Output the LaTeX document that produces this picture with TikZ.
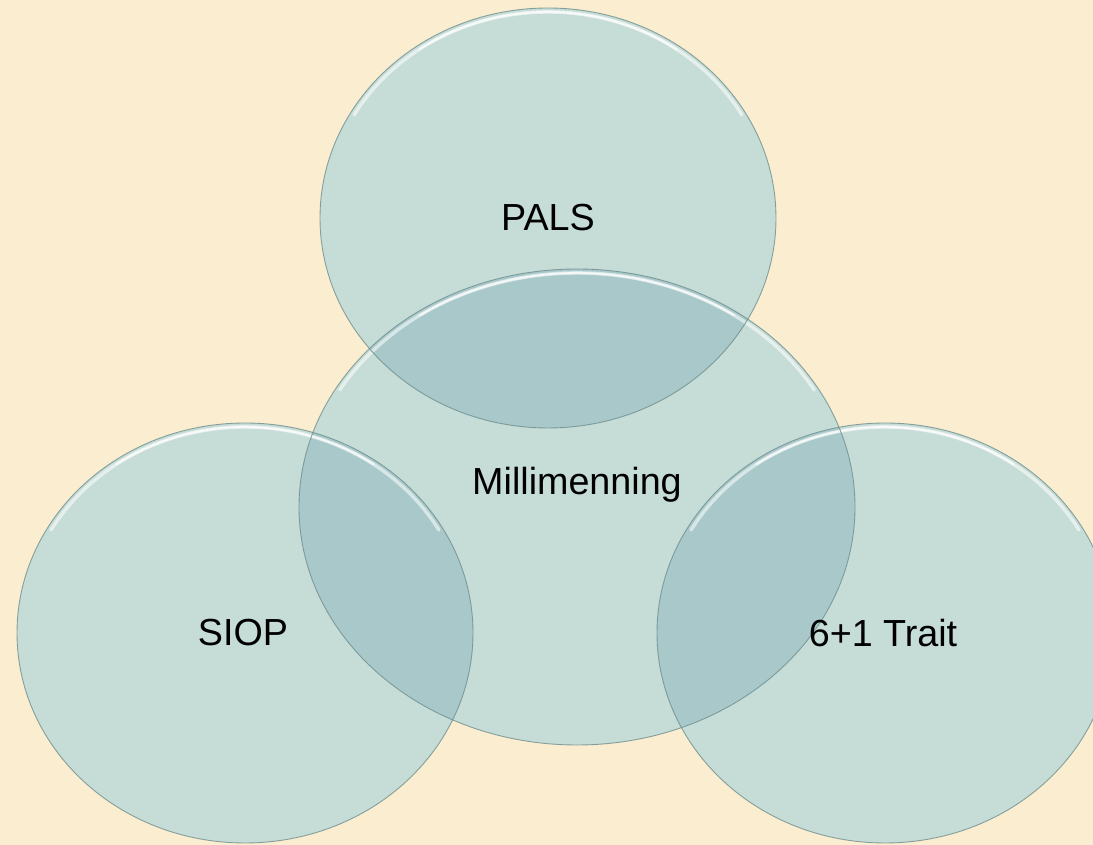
\documentclass[tikz,border=0pt]{standalone}
\usepackage{fontspec}
\setmainfont{Liberation Sans}
\definecolor{bgbeige}{HTML}{FBEDD0}
\definecolor{vennfill}{HTML}{C6DCD6}
\definecolor{vennovl}{HTML}{A8C8CA}
\definecolor{vennrim}{HTML}{6F8E8E}
\tikzset{
  vennshape/.style={fill=vennfill},
  ovlshape/.style={fill=vennovl},
  rimline/.style={draw=vennrim, line width=0.9pt, draw opacity=0.8},
  hiline/.style={draw=white, line width=3.5pt, draw opacity=0.55, line cap=round},
  hiline2/.style={draw=white, line width=2pt, draw opacity=0.7, line cap=round},
  lbl/.style={font=\fontsize{37.7}{44}\selectfont, text=black, inner sep=0pt}
}
\begin{document}
\begin{tikzpicture}[x=1pt,y=1pt]
\useasboundingbox (0,0) rectangle (1093,845);
\fill[bgbeige] (0,0) rectangle (1093,845);
% centres
\coordinate (cPals) at (548,627);
\coordinate (cMill) at (577,338);
\coordinate (cSiop) at (245,212);
\coordinate (cTrait) at (885,212);
% base fills
\begin{scope}
\clip (0,0) rectangle (1093,845);
\fill[vennshape] (cMill) ellipse[x radius=278pt, y radius=238pt];
\fill[vennshape] (cPals) ellipse[x radius=228pt, y radius=210pt];
\fill[vennshape] (cSiop) ellipse[x radius=228pt, y radius=210pt];
\fill[vennshape] (cTrait) ellipse[x radius=228pt, y radius=210pt];
% overlaps
\begin{scope}
\clip (cMill) ellipse[x radius=278pt, y radius=238pt];
\fill[ovlshape] (cPals) ellipse[x radius=228pt, y radius=210pt];
\fill[ovlshape] (cSiop) ellipse[x radius=228pt, y radius=210pt];
\fill[ovlshape] (cTrait) ellipse[x radius=228pt, y radius=210pt];
\end{scope}
% highlights (top bevel)
\draw[hiline] (cMill) ++(150:274pt and 234pt) arc[start angle=150, end angle=30, x radius=274pt, y radius=234pt];
\draw[hiline] (cPals) ++(150:224pt and 206pt) arc[start angle=150, end angle=30, x radius=224pt, y radius=206pt];
\draw[hiline] (cSiop) ++(150:224pt and 206pt) arc[start angle=150, end angle=30, x radius=224pt, y radius=206pt];
\draw[hiline] (cTrait) ++(150:224pt and 206pt) arc[start angle=150, end angle=30, x radius=224pt, y radius=206pt];
\draw[hiline2] (cMill) ++(125:274pt and 234pt) arc[start angle=125, end angle=55, x radius=274pt, y radius=234pt];
\draw[hiline2] (cPals) ++(125:224pt and 206pt) arc[start angle=125, end angle=55, x radius=224pt, y radius=206pt];
\draw[hiline2] (cSiop) ++(125:224pt and 206pt) arc[start angle=125, end angle=55, x radius=224pt, y radius=206pt];
\draw[hiline2] (cTrait) ++(125:224pt and 206pt) arc[start angle=125, end angle=55, x radius=224pt, y radius=206pt];
% rims
\draw[rimline] (cMill) ellipse[x radius=278pt, y radius=238pt];
\draw[rimline] (cPals) ellipse[x radius=228pt, y radius=210pt];
\draw[rimline] (cSiop) ellipse[x radius=228pt, y radius=210pt];
\draw[rimline] (cTrait) ellipse[x radius=228pt, y radius=210pt];
\end{scope}
% labels
\node[lbl] (pals) at (548,627) {PALS};
\node[lbl] (mill) at (577,360) {Millimenning};
\node[lbl] (siop) at (243,212) {SIOP};
\node[lbl] (trait) at (883,212) {6+1 Trait};
\end{tikzpicture}
\end{document}
